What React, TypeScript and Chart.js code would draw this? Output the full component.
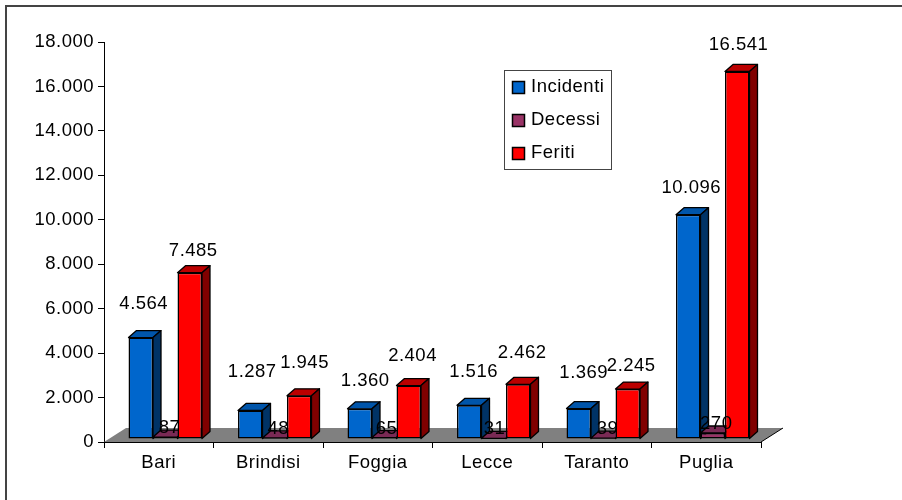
import React, { useEffect, useRef } from "react";
import { Chart, registerables } from "chart.js";

Chart.register(...registerables);

const categories = ["Bari", "Brindisi", "Foggia", "Lecce", "Taranto", "Puglia"];
const incidenti = [4564, 1287, 1360, 1516, 1369, 10096];
const decessi = [87, 48, 65, 31, 39, 270];
const feriti = [7485, 1945, 2404, 2462, 2245, 16541];
const yTicks = [0, 2000, 4000, 6000, 8000, 10000, 12000, 14000, 16000, 18000];

// hand placed label nudges relative to each bar's centre/top
const nudgeIncidenti = [[3, -33.6], [2, -38.7], [5.5, -27.8], [4.3, -33.6], [5, -35.3], [3, -26.3]];
const nudgeDecessi = [[4.3, -8.7], [3.5, -8.7], [2.3, -8.6], [0.8, -9.3], [4.3, -9.1], [3.5, -8.7]];
const nudgeFeriti = [[3.5, -22], [5.3, -33], [3.8, -29.6], [4, -31], [3.5, -23.4], [1.3, -26.4]];
const nudges = [nudgeIncidenti, nudgeDecessi, nudgeFeriti];

const FONT = '"Liberation Sans", Arial, sans-serif';
const FS = 18.5;
const fmt = (v: number) => String(v).replace(/\B(?=(\d{3})+$)/g, ".");

const DEPTH_X = 8;
const DEPTH_Y = 7;
const SHIFT_X = 6.5;
const SHIFT_Y = -3;
const faces = [
  { side: "#003366", top: "#0055AA" },
  { side: "#662244", top: "#7A2A55" },
  { side: "#800000", top: "#BB0000" },
];

const threeD = {
  id: "threeD",
  beforeDraw(chart: any) {
    const { ctx, width, height } = chart;
    (ctx as any).letterSpacing = "0.5px";
    ctx.save();
    ctx.fillStyle = "#444";
    ctx.fillRect(5, 5, width - 5, 2);
    ctx.fillRect(5, 5, 2, height - 5);
    ctx.restore();
  },
  beforeDatasetsDraw(chart: any) {
    const { ctx, chartArea: a } = chart;
    ctx.save();
    ctx.fillStyle = "#808080";
    ctx.beginPath();
    ctx.moveTo(a.left, a.bottom);
    ctx.lineTo(a.left + 22, a.bottom - 14);
    ctx.lineTo(a.right + 22, a.bottom - 14);
    ctx.lineTo(a.right, a.bottom);
    ctx.closePath();
    ctx.fill();
    ctx.strokeStyle = "#000";
    ctx.lineWidth = 1;
    ctx.beginPath();
    ctx.moveTo(a.right, a.bottom);
    ctx.lineTo(a.right + 22, a.bottom - 14);
    ctx.stroke();
    ctx.restore();

    // painter's order: first series first, each with its own side and top faces
    ctx.save();
    ctx.translate(SHIFT_X, SHIFT_Y);
    chart.data.datasets.forEach((_: any, i: number) => {
      const f = faces[i];
      const meta = chart.getDatasetMeta(i);
      ctx.save();
      ctx.strokeStyle = "#000";
      ctx.lineWidth = 1.3;
      ctx.lineJoin = "round";
      meta.data.forEach((b: any) => {
        const l = b.x - b.width / 2;
        const r = b.x + b.width / 2;
        ctx.fillStyle = f.top;
        ctx.beginPath();
        ctx.moveTo(l, b.y);
        ctx.lineTo(l + DEPTH_X, b.y - DEPTH_Y);
        ctx.lineTo(r + DEPTH_X, b.y - DEPTH_Y);
        ctx.lineTo(r, b.y);
        ctx.closePath();
        ctx.fill();
        ctx.stroke();
        ctx.fillStyle = f.side;
        ctx.beginPath();
        ctx.moveTo(r, b.y);
        ctx.lineTo(r + DEPTH_X, b.y - DEPTH_Y);
        ctx.lineTo(r + DEPTH_X, b.base - DEPTH_Y);
        ctx.lineTo(r, b.base);
        ctx.closePath();
        ctx.fill();
        ctx.stroke();
      });
      ctx.restore();
      meta.controller.draw();
    });
    ctx.restore();
  },
  beforeDatasetDraw() {
    return false;
  },
  afterDatasetsDraw(chart: any) {
    const { ctx } = chart;
    ctx.save();
    // data labels
    ctx.fillStyle = "#000";
    ctx.font = `${FS}px ${FONT}`;
    ctx.textAlign = "center";
    ctx.textBaseline = "middle";
    chart.data.datasets.forEach((ds: any, i: number) => {
      chart.getDatasetMeta(i).data.forEach((b: any, j: number) => {
        const [dx, dy] = nudges[i][j];
        ctx.fillText(fmt(ds.data[j]), b.x + SHIFT_X + dx, b.y + SHIFT_Y + dy);
      });
    });
    // legend
    ctx.fillStyle = "#fff";
    ctx.strokeStyle = "#444";
    ctx.lineWidth = 1;
    ctx.fillRect(504.5, 70.5, 107, 99);
    ctx.strokeRect(504.5, 70.5, 107, 99);
    ctx.textAlign = "left";
    chart.data.datasets.forEach((ds: any, i: number) => {
      const cy = 87.5 + i * 33;
      ctx.fillStyle = ds.backgroundColor;
      ctx.strokeStyle = "#000";
      ctx.lineWidth = 1.5;
      ctx.fillRect(512.5, cy - 6, 12, 12);
      ctx.strokeRect(512.5, cy - 6, 12, 12);
      ctx.fillStyle = "#000";
      ctx.fillText(ds.label, 531, cy - 1);
    });
    ctx.restore();
  },
};

export default function App() {
  const ref = useRef<HTMLCanvasElement>(null);
  useEffect(() => {
    const chart = new Chart(ref.current as HTMLCanvasElement, {
      type: "bar",
      data: {
        labels: categories,
        datasets: [
          { label: "Incidenti", data: incidenti, backgroundColor: "#0066CC" },
          { label: "Decessi", data: decessi, backgroundColor: "#993366" },
          { label: "Feriti", data: feriti, backgroundColor: "#FF0000" },
        ].map((d) => ({
          ...d,
          borderColor: "#000",
          borderWidth: 1.5,
          borderSkipped: false,
          barPercentage: 1,
          categoryPercentage: 0.671,
          clip: false,
        })) as any,
      },
      plugins: [threeD],
      options: {
        responsive: false,
        animation: false,
        layout: { padding: { left: 0, right: 141, top: 42, bottom: 0 } },
        plugins: { legend: { display: false }, tooltip: { enabled: false }, title: { display: false } },
        scales: {
          x: {
            afterFit: (s: any) => { s.height = 58; },
            grid: { drawOnChartArea: false, drawTicks: true, tickLength: 6, color: "#000" },
            border: { color: "#000", width: 1 },
            ticks: { color: "#000", font: { family: FONT, size: FS }, padding: 4, maxRotation: 0 },
          },
          y: {
            min: 0,
            max: 18000,
            afterFit: (s: any) => { s.width = 104; },
            afterBuildTicks: (s: any) => { s.ticks = yTicks.map((value) => ({ value })); },
            grid: { drawOnChartArea: false, drawTicks: true, tickLength: 6, color: "#000" },
            border: { color: "#000", width: 1 },
            ticks: { color: "#000", font: { family: FONT, size: FS }, padding: 4, callback: (v: any) => fmt(Number(v)) },
          },
        },
      },
    } as any);
    return () => chart.destroy();
  }, []);
  return (
    <div style={{ position: "absolute", left: 0, top: 0, width: 902, height: 500, background: "#fff" }}>
      <canvas ref={ref} width={902} height={500} style={{ display: "block" }} />
    </div>
  );
}
